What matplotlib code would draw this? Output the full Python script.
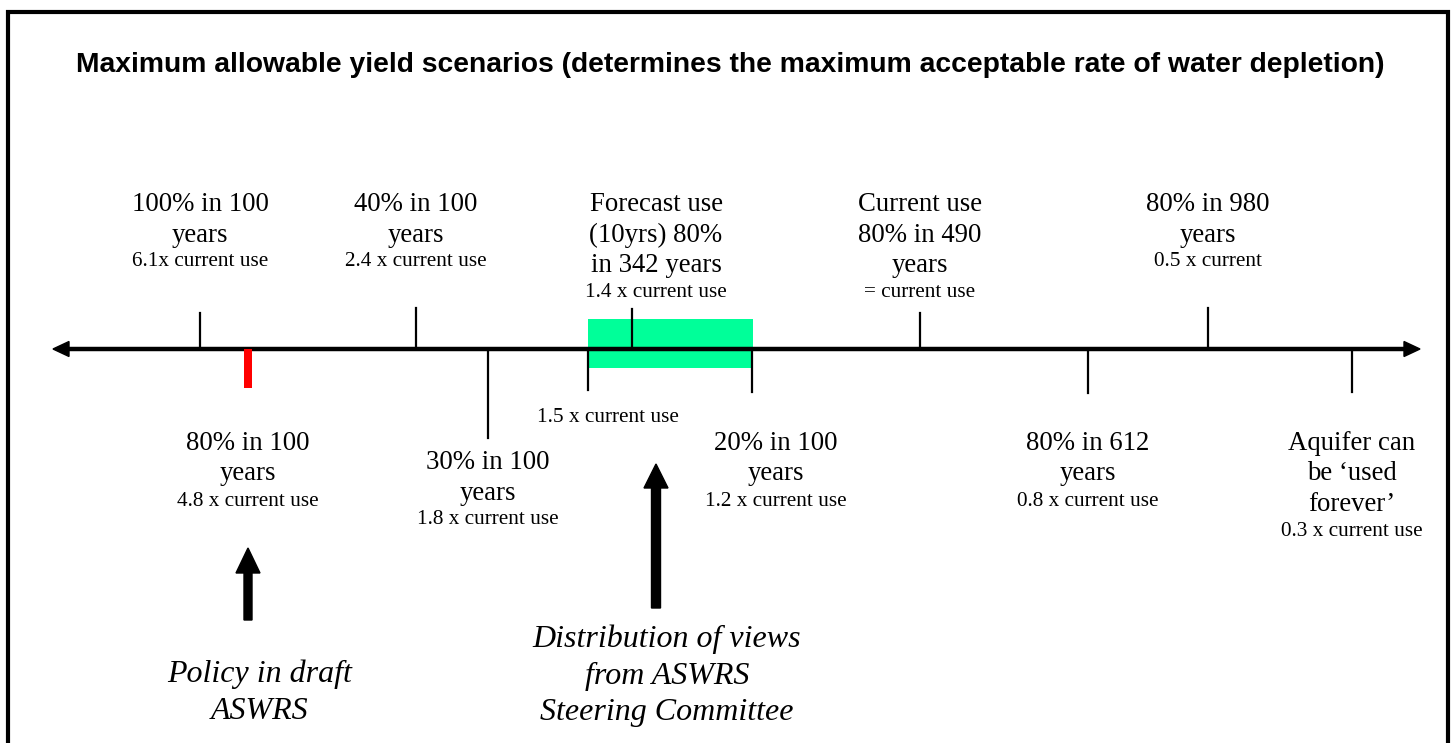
import matplotlib
matplotlib.use("Agg")
import matplotlib.pyplot as plt
from matplotlib.patches import Rectangle, FancyArrow, Polygon

# timeline scenarios (positions along the line, in figure pixels)
above_x = [200, 416, 632, 920, 1208]
above_top = [313, 308, 309, 313, 308]
below_x = [488, 588, 752, 1088, 1352]
below_bottom = [438, 390, 392, 393, 392]

top_label_x = [200, 416, 656, 920, 1208]
top_labels = [["100% in 100", "years"],
              ["40% in 100", "years"],
              ["Forecast use", "(10yrs) 80%", "in 342 years"],
              ["Current use", "80% in 490", "years"],
              ["80% in 980", "years"]]
top_notes = ["6.1x current use", "2.4 x current use", "1.4 x current use",
             "= current use", "0.5 x current"]

bot_label_x = [248, 488, 776, 1088, 1352]
bot_label_y = [450, 469, 450, 450, 450]
bot_labels = [["80% in 100", "years"],
              ["30% in 100", "years"],
              ["20% in 100", "years"],
              ["80% in 612", "years"],
              ["Aquifer can", "be \u2018used", "forever\u2019"]]
bot_notes = ["4.8 x current use", "1.8 x current use", "1.2 x current use",
             "0.8 x current use", "0.3 x current use"]

policy_x = 248          # red marker: policy in draft ASWRS
views_range = [588, 753]  # green band: steering committee views
views_note = "1.5 x current use"

title = ("Maximum allowable yield scenarios (determines the maximum "
         "acceptable rate of water depletion)")

W, H = 1456, 743
line_y = 349
serif = "Liberation Serif"

fig = plt.figure(figsize=(W / 100, H / 100), dpi=100)
ax = fig.add_axes([0, 0, 1, 1])
ax.set_xlim(0, W)
ax.set_ylim(H, 0)
ax.axis("off")

# frame (open at the bottom)
ax.plot([8, 8, 1448, 1448], [H + 5, 12, 12, H + 5], color="black", lw=3,
        solid_joinstyle="miter")

ax.text(76, 72, title, fontsize=20.3, fontweight="bold",
        family="Liberation Sans", va="baseline", ha="left")

# green band
ax.add_patch(Rectangle((views_range[0], 319), views_range[1] - views_range[0],
                       49, facecolor="#00ff99", edgecolor="none", zorder=1))

# main line with arrow heads
ax.plot([66, 1406], [line_y, line_y], color="black", lw=3.2, zorder=3,
        solid_capstyle="butt")
ax.add_patch(Polygon([[53, line_y], [69, line_y - 7.5], [69, line_y + 7.5]],
                     closed=True, color="black", zorder=3))
ax.add_patch(Polygon([[1420, line_y], [1404, line_y - 7.5], [1404, line_y + 7.5]],
                     closed=True, color="black", zorder=3))

for x, t in zip(above_x, above_top):
    ax.plot([x, x], [line_y, t], color="black", lw=1.6, zorder=2)
for x, b in zip(below_x, below_bottom):
    ax.plot([x, x], [line_y, b], color="black", lw=1.6, zorder=2)

# red marker
ax.add_patch(Rectangle((policy_x - 4, line_y), 8, 39, facecolor="red",
                       edgecolor="none", zorder=4))

big = 19.3
small = 15.3
for x, lines, note in zip(top_label_x, top_labels, top_notes):
    y = 211
    for s in lines:
        ax.text(x, y, s, fontsize=big, family=serif, ha="center", va="baseline")
        y += 30.5
    ax.text(x, y - 5.5, note, fontsize=small, family=serif, ha="center",
            va="baseline")

for x, y0, lines, note in zip(bot_label_x, bot_label_y, bot_labels, bot_notes):
    y = y0
    for s in lines:
        ax.text(x, y, s, fontsize=big, family=serif, ha="center", va="baseline")
        y += 30.5
    ax.text(x, y - 5.5, note, fontsize=small, family=serif, ha="center",
            va="baseline")

ax.text(608, 422, views_note, fontsize=small, family=serif, ha="center",
        va="baseline")

# block arrows
ax.add_patch(FancyArrow(248, 620, 0, -72, width=8, head_width=24,
                        head_length=25, length_includes_head=True,
                        color="black"))
ax.add_patch(FancyArrow(656, 608, 0, -144, width=9, head_width=24,
                        head_length=24, length_includes_head=True,
                        color="black"))

ital = 23
for y, s in zip([682, 719], ["Policy in draft", "ASWRS"]):
    ax.text(260, y, s, fontsize=ital, family=serif, style="italic",
            ha="center", va="baseline")
for y, s in zip([647, 684, 720], ["Distribution of views", "from ASWRS",
                                  "Steering Committee"]):
    ax.text(667, y, s, fontsize=ital, family=serif, style="italic",
            ha="center", va="baseline")

fig.savefig("out.png", dpi=100, facecolor="white")
